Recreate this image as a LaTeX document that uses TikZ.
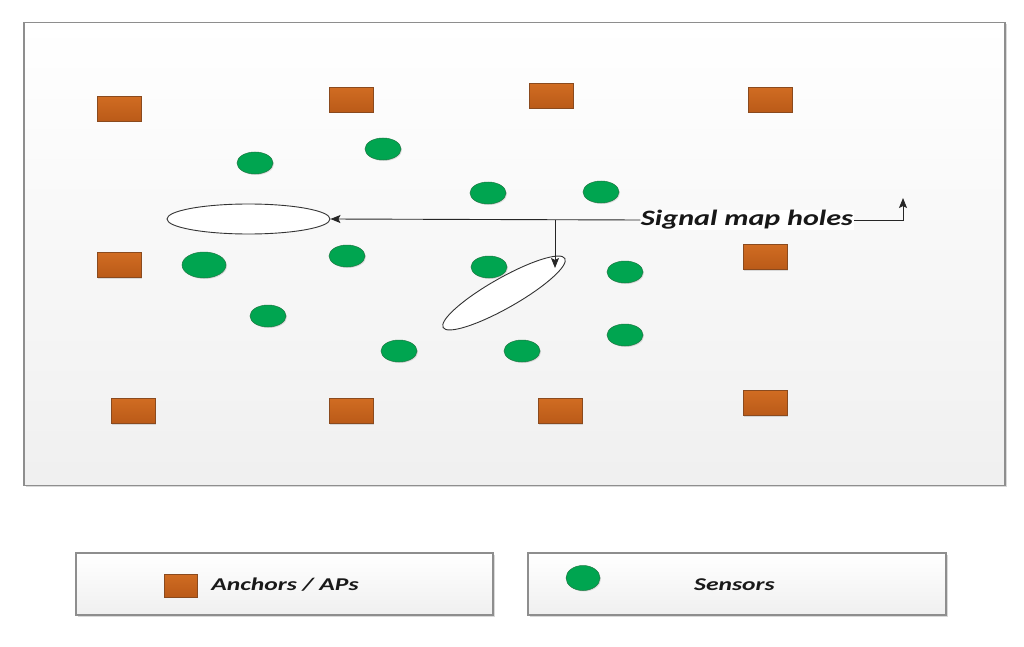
\documentclass[tikz,border=0pt]{standalone}
\usepackage{fontspec}
\setmainfont{Carlito}
\usetikzlibrary{shapes.geometric,arrows.meta,shadows}
\definecolor{orfill}{HTML}{C8641E}
\definecolor{ortop}{HTML}{D06C22}
\definecolor{orbot}{HTML}{BA5A18}
\definecolor{orline}{HTML}{8A4A1E}
\definecolor{grfill}{HTML}{00A550}
\definecolor{grline}{HTML}{1E7A44}
\definecolor{frline}{HTML}{8E8E8E}
\newcommand{\widetext}[2]{\scalebox{#1}[1]{#2}}
\tikzset{
  anchorbox/.style={rectangle, draw=orline, line width=0.6pt, top color=ortop, bottom color=orbot,
    minimum width=44pt, minimum height=25pt, inner sep=0pt,
    drop shadow={shadow xshift=1pt, shadow yshift=-1pt, opacity=0.25}},
  sensordot/.style={ellipse, draw=grline, line width=0.5pt, fill=grfill,
    minimum width=36pt, minimum height=22pt, inner sep=0pt,
    drop shadow={shadow xshift=1pt, shadow yshift=-1pt, opacity=0.25}},
  hole/.style={ellipse, draw=black!80, line width=0.9pt, fill=white, inner sep=0pt},
  panel/.style={rectangle, draw=frline, line width=1.2pt, top color=white, bottom color=black!6,
    inner sep=0pt, drop shadow={shadow xshift=1.5pt, shadow yshift=-1.5pt, opacity=0.3}},
  lbl/.style={font=\fontsize{18}{20}\selectfont\bfseries\itshape, text=black!90, inner sep=1pt},
  conn/.style={draw=black!85, line width=0.9pt},
  tip/.style={-{Stealth[length=10pt,width=8pt,inset=2pt]}}
}
\begin{document}
\begin{tikzpicture}[x=1pt,y=-1pt]
\useasboundingbox (0,0) rectangle (1024,647);
% main frame
\node[panel, minimum width=981pt, minimum height=463pt] (frame) at (514.5,254) {};
% anchors
\node[anchorbox] (a1) at (119,109) {};
\node[anchorbox] (a2) at (351,100) {};
\node[anchorbox] (a3) at (551,96) {};
\node[anchorbox] (a4) at (770,100) {};
\node[anchorbox] (a5) at (119,265) {};
\node[anchorbox] (a6) at (765,257) {};
\node[anchorbox] (a7) at (133,411) {};
\node[anchorbox] (a8) at (351,411) {};
\node[anchorbox] (a9) at (560,411) {};
\node[anchorbox] (a10) at (765,403) {};
% sensors
\node[sensordot] (s1) at (255,163) {};
\node[sensordot] (s2) at (383,149) {};
\node[sensordot] (s3) at (488,193) {};
\node[sensordot] (s4) at (601,192) {};
\node[sensordot, minimum width=44pt, minimum height=26pt] (s5) at (204,265) {};
\node[sensordot] (s6) at (347,256) {};
\node[sensordot] (s7) at (489,267) {};
\node[sensordot] (s8) at (625,272) {};
\node[sensordot] (s9) at (268,316) {};
\node[sensordot] (s10) at (399,351) {};
\node[sensordot] (s11) at (522,351) {};
\node[sensordot] (s12) at (625,335) {};
% holes
\node[hole, minimum width=163pt, minimum height=30pt] (h1) at (248.5,219) {};
\node[hole, minimum width=140pt, minimum height=30pt, rotate=29.6] (h2) at (504,293) {};
% label and connectors
\node[lbl, fill=white, inner sep=0.5pt, font=\fontsize{22}{24}\selectfont\bfseries\itshape] (sig) at (747,220) {\widetext{1.37}{Signal map holes}};
\coordinate (br) at (555,220);
\coordinate (h2t) at (555,268);
\coordinate (rc) at (903,220);
\coordinate (up) at (903,198);
\draw[conn, tip] (sig.west) -- (h1.east);
\draw[conn, tip] (br) -- (h2t);
\draw[conn, tip] (sig.east) -- (rc) -- (up);
% legend
\node[panel, minimum width=417pt, minimum height=62pt] (leg1) at (284.5,584) {};
\node[panel, minimum width=418pt, minimum height=62pt] (leg2) at (737,584) {};
\node[anchorbox, minimum width=33pt, minimum height=23pt] (la) at (180.5,585.5) {};
\node[lbl] (lat) at (285,585) {\widetext{1.42}{Anchors / APs}};
\node[sensordot, minimum width=34pt, minimum height=25pt] (ls) at (583,578) {};
\node[lbl] (lst) at (734.5,585) {\widetext{1.42}{Sensors}};
\end{tikzpicture}
\end{document}
